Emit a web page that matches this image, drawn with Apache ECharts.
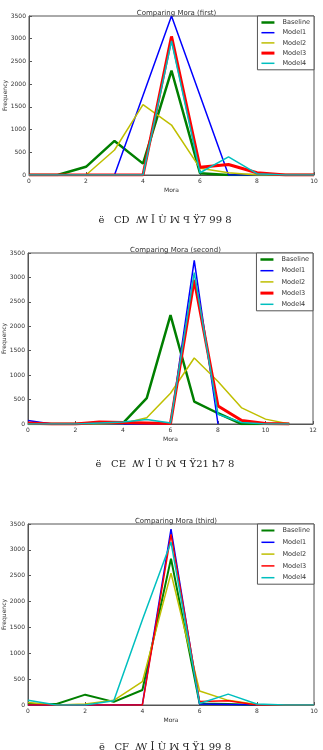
<!DOCTYPE html>
<html>
<head>
<meta charset="utf-8">
<script src="https://cdn.jsdelivr.net/npm/echarts@6/dist/echarts.min.js"></script>
<style>
html, body { margin: 0; padding: 0; background: #fff; }
#main { width: 323px; height: 750px; }
</style>
</head>
<body>
<div id="main"></div>
<script>
// 三张图的数据 (Mora 分布)
var seriesNames = ['Baseline', 'Model1', 'Model2', 'Model3', 'Model4'];
var seriesColors = ['#007f00', '#0000ff', '#bfbf00', '#ff0000', '#00bfbf'];

var titles = ['Comparing Mora (first)', 'Comparing Mora (second)', 'Comparing Mora (third)'];
var captions = ['ë   CD  ꟿ ꟾ Ù ꟽ ꟼ Ÿ7 99 8', 'ë   CE  ꟿ ꟾ Ù ꟽ ꟼ Ÿ21 ħ7 8', 'ë   CF  ꟿ ꟾ Ù ꟽ ꟼ Ÿ1 99 8'];
var xMax = [10, 12, 10];
var yTicks = [0, 500, 1000, 1500, 2000, 2500, 3000, 3500];

// first
var baseline1 = [0, 0, 180, 750, 250, 2300, 40, 0, 0, 0, 0];
var model1_1 = [0, 0, 0, 0, 1750, 3500, 1750, 0, 0, 0, 0];
var model2_1 = [0, 0, 0, 550, 1550, 1100, 150, 50, 0, 0, 0];
var model3_1 = [0, 0, 0, 0, 0, 3050, 170, 230, 50, 0, 0];
var model4_1 = [0, 0, 0, 0, 0, 2950, 50, 400, 30, 0, 0];

// second
var baseline2 = [0, 0, 0, 20, 20, 530, 2230, 460, 220, 0, 0, 0];
var model1_2 = [70, 0, 0, 0, 0, 0, 0, 3350, 0];
var model2_2 = [0, 0, 0, 0, 10, 130, 630, 1350, 870, 330, 100, 0];
var model3_2 = [20, 0, 0, 40, 30, 20, 10, 2950, 370, 70, 10, 0];
var model4_2 = [0, 0, 0, 20, 40, 90, 20, 3100, 200, 30, 0, 0];

// third
var baseline3 = [20, 20, 200, 60, 290, 2830, 30, 20, 0, 0, 0];
var model1_3 = [0, 0, 0, 0, 10, 3400, 20, 10, 0, 0, 0];
var model2_3 = [50, 0, 20, 90, 450, 2550, 270, 90, 10, 0, 0];
var model3_3 = [0, 0, 0, 0, 0, 3300, 70, 80, 0, 0, 0];
var model4_3 = [90, 0, 0, 80, 1650, 3150, 30, 210, 20, 0, 0];

var allData = [
    [baseline1, model1_1, model2_1, model3_1, model4_1],
    [baseline2, model1_2, model2_2, model3_2, model4_2],
    [baseline3, model1_3, model2_3, model3_3, model4_3]
];
var lineWidths = [
    [2.5, 1.5, 1.5, 3, 1.5],
    [2.5, 1.5, 1.5, 3, 1.5],
    [2, 1.5, 1.5, 1.5, 1.5]
];

var grids = [
    { left: 29, right: 9, top: 16, height: 159 },
    { left: 28, right: 10, top: 253, height: 171 },
    { left: 28, right: 9, top: 524, height: 181 }
];
var titleTops = [5, 242, 513];
var captionTops = [210, 454, 737];
var legendBoxes = [
    { top: 16, right: 9, itemGap: 3.2 },
    { top: 253, right: 10, itemGap: 4.2 },
    { top: 524, right: 9, itemGap: 4.8 }
];

// 图例里画一条短横线, 粗细跟系列一致
function lineIcon (w) {
    return 'path://M0,0 L26,0 L26,' + (w * 2) + ' L0,' + (w * 2) + ' Z';
}

var fontFamily = 'DejaVu Sans';
var option = {
    animation: false,
    textStyle: { fontFamily: fontFamily },
    title: [],
    grid: [],
    xAxis: [],
    yAxis: [],
    legend: [],
    series: []
};

for (var c = 0; c < 3; c++) {
    option.title.push({
        text: titles[c],
        left: grids[c].left + (323 - grids[c].left - grids[c].right) / 2,
        textAlign: 'center',
        top: titleTops[c],
        textStyle: { fontSize: 7, fontWeight: 'normal', color: '#333', fontFamily: fontFamily }
    });
    option.title.push({
        text: captions[c],
        left: 160,
        textAlign: 'center',
        top: captionTops[c],
        textStyle: { fontSize: 10, fontWeight: 'normal', color: '#222', fontFamily: 'DejaVu Serif' }
    });
    option.grid.push(Object.assign({
        show: true, borderColor: '#555', borderWidth: 1, backgroundColor: '#fff',
        containLabel: false, outerBoundsMode: 'none'
    }, grids[c]));
    option.xAxis.push({
        type: 'value',
        gridIndex: c,
        min: 0,
        max: xMax[c],
        interval: 2,
        name: 'Mora',
        nameLocation: 'middle',
        nameGap: 12,
        nameMoveOverlap: false,
        nameTextStyle: { fontSize: 6, color: '#333' },
        axisLine: { lineStyle: { color: '#555' } },
        axisTick: { inside: true, length: 3, lineStyle: { color: '#555' } },
        axisLabel: { fontSize: 6, color: '#333', margin: 3, formatter: function (v) { return String(v); } },
        splitLine: { show: false }
    });
    option.yAxis.push({
        type: 'value',
        gridIndex: c,
        min: yTicks[0],
        max: yTicks[yTicks.length - 1],
        interval: 500,
        name: 'Frequency',
        nameLocation: 'middle',
        nameGap: 21,
        nameRotate: 90,
        nameMoveOverlap: false,
        nameTextStyle: { fontSize: 6, color: '#333' },
        axisLine: { lineStyle: { color: '#555' } },
        axisTick: { inside: true, length: 3, lineStyle: { color: '#555' } },
        axisLabel: { fontSize: 6, color: '#333', margin: 3, formatter: function (v) { return String(v); } },
        splitLine: { show: false }
    });
    option.legend.push({
        top: legendBoxes[c].top,
        right: legendBoxes[c].right,
        orient: 'vertical',
        data: seriesNames.map(function (n, k) {
            return { name: n, icon: lineIcon(lineWidths[c][k]), itemStyle: { color: seriesColors[k] } };
        }),
        itemWidth: 13,
        itemHeight: 6,
        itemGap: legendBoxes[c].itemGap,
        padding: [3, 4, 3, 4],
        backgroundColor: '#fff',
        borderColor: '#555',
        borderWidth: 1,
        borderRadius: 0,
        textStyle: { fontSize: 6.5, color: '#333', padding: [0, 0, 0, 3] },
        selectedMode: false,
        z: 10
    });
    for (var s = 0; s < seriesNames.length; s++) {
        var vals = allData[c][s];
        option.series.push({
            name: seriesNames[s],
            type: 'line',
            xAxisIndex: c,
            yAxisIndex: c,
            symbol: 'none',
            color: seriesColors[s],
            lineStyle: { width: lineWidths[c][s], color: seriesColors[s] },
            data: vals.map(function (v, i) { return [i, v]; })
        });
    }
}

var myChart = echarts.init(document.getElementById('main'));
myChart.setOption(option);
</script>
</body>
</html>
